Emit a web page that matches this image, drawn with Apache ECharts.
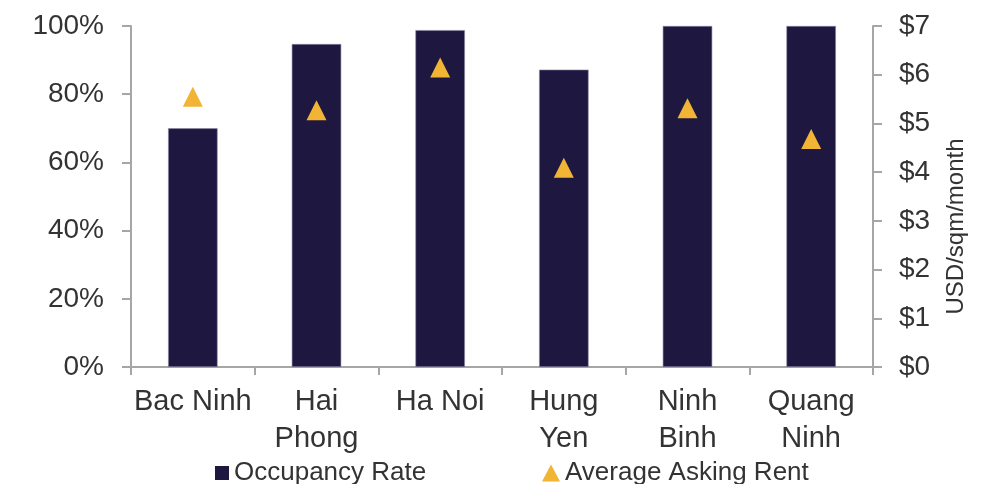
<!DOCTYPE html>
<html>
<head>
<meta charset="utf-8">
<script src="https://cdn.jsdelivr.net/npm/echarts@6/dist/echarts.min.js"></script>
<style>
  html, body { margin: 0; padding: 0; background: #ffffff; }
  #chart { width: 989px; height: 484px; }
</style>
</head>
<body>
<div id="chart"></div>
<script>
// Industrial market snapshot by province
const provinces = ['Bac Ninh', 'Hai\nPhong', 'Ha Noi', 'Hung\nYen', 'Ninh\nBinh', 'Quang\nNinh'];
const occupancyRate = [70, 94.7, 98.8, 87.2, 100, 100];          // %
const askingRent = [5.55, 5.27, 6.15, 4.09, 5.31, 4.68];         // USD/sqm/month
const pctTicks = { min: 0, max: 100, interval: 20 };
const usdTicks = { min: 0, max: 7, interval: 1 };

const TEXT = '#333333';
const AXIS = '#a6a6a6';
const NAVY = '#1e1840';
const GOLD = '#f2b434';
const FONT = "'Liberation Sans', Arial, sans-serif";

const chart = echarts.init(document.getElementById('chart'), null, { renderer: 'canvas' });

chart.setOption({
  animation: false,
  backgroundColor: '#ffffff',
  grid: { left: 131, right: 116, top: 26, bottom: 117, containLabel: false },
  legend: [
    {
      left: 215, top: 458, padding: 0,
      itemWidth: 14, itemHeight: 14,
      itemStyle: { borderWidth: 0 },
      textStyle: { color: TEXT, fontSize: 26, lineHeight: 30, fontFamily: FONT },
      data: [{ name: 'Occupancy Rate', icon: 'rect' }]
    },
    {
      left: 542, top: 458, padding: 0,
      itemWidth: 18, itemHeight: 17,
      itemStyle: { borderWidth: 0 },
      textStyle: { color: TEXT, fontSize: 26, lineHeight: 30, fontFamily: FONT },
      data: [{ name: 'Average Asking Rent', icon: 'triangle' }]
    }
  ],
  xAxis: {
    type: 'category',
    data: provinces,
    boundaryGap: true,
    axisLine: { show: true, lineStyle: { color: AXIS, width: 2 } },
    axisTick: { show: true, length: 8, alignWithLabel: false, lineStyle: { color: AXIS, width: 2 } },
    axisLabel: {
      color: TEXT, fontSize: 29, fontFamily: FONT, lineHeight: 36.5, margin: 17, interval: 0
    }
  },
  yAxis: [
    {
      type: 'value',
      min: pctTicks.min, max: pctTicks.max, interval: pctTicks.interval,
      position: 'left',
      splitLine: { show: false },
      axisLine: { show: true, lineStyle: { color: AXIS, width: 2 } },
      axisTick: { show: true, length: 9, lineStyle: { color: AXIS, width: 2 } },
      axisLabel: {
        color: TEXT, fontSize: 28, fontFamily: FONT, margin: 27,
        formatter: v => v + '%'
      }
    },
    {
      type: 'value',
      min: usdTicks.min, max: usdTicks.max, interval: usdTicks.interval,
      position: 'right',
      name: 'USD/sqm/month',
      nameLocation: 'middle',
      nameRotate: 90,
      nameGap: 71,
      nameTextStyle: { color: TEXT, fontSize: 24, fontFamily: FONT, padding: [0, 60, 0, 0] },
      splitLine: { show: false },
      axisLine: { show: true, lineStyle: { color: AXIS, width: 2 } },
      axisTick: { show: true, length: 9, lineStyle: { color: AXIS, width: 2 } },
      axisLabel: {
        color: TEXT, fontSize: 28, fontFamily: FONT, margin: 26,
        formatter: v => '$' + v
      }
    }
  ],
  series: [
    {
      name: 'Occupancy Rate',
      type: 'bar',
      yAxisIndex: 0,
      data: occupancyRate,
      barWidth: '40%',
      itemStyle: { color: NAVY, borderColor: '#8a87a6', borderWidth: 0.6 },
      z: 2
    },
    {
      name: 'Average Asking Rent',
      type: 'scatter',
      yAxisIndex: 1,
      data: askingRent,
      symbol: 'triangle',
      symbolSize: 20,
      itemStyle: { color: GOLD, opacity: 1 },
      z: 3
    }
  ]
});
</script>
</body>
</html>
